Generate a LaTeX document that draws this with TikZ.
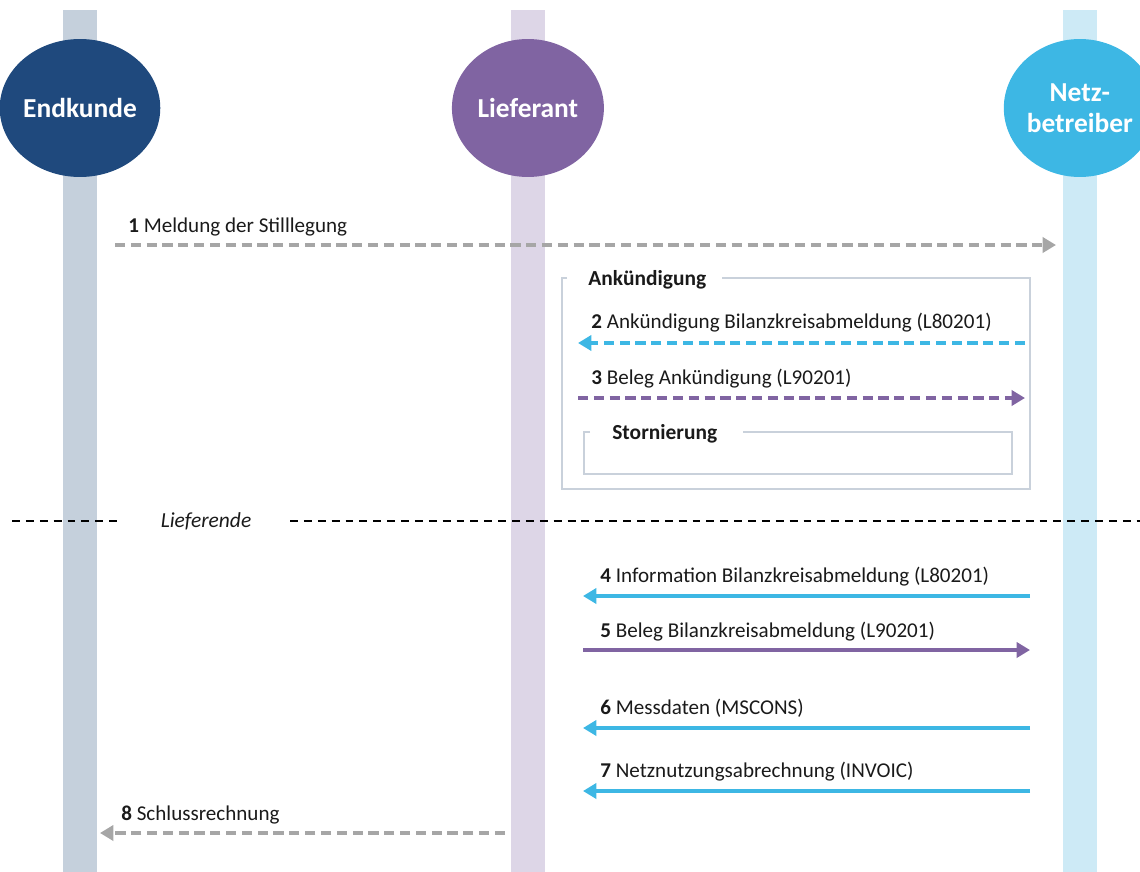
\documentclass[tikz,border=0pt]{standalone}
\usepackage{fontspec}
\setmainfont{Carlito}
\usetikzlibrary{positioning,arrows.meta,shapes.geometric}
\definecolor{ekblue}{HTML}{1F497D}
\definecolor{lfpurple}{HTML}{8064A2}
\definecolor{nbcyan}{HTML}{3DB7E4}
\definecolor{eklane}{HTML}{C5D0DC}
\definecolor{lflane}{HTML}{DDD6E7}
\definecolor{nblane}{HTML}{CDEAF6}
\definecolor{msggray}{HTML}{A6A6A6}
\definecolor{framegray}{HTML}{C9D1DB}
\definecolor{txt}{HTML}{1A1A1A}

\begin{document}
\begin{tikzpicture}[x=0.02cm, y=-0.02cm,
    actor/.style = {ellipse, minimum width = 3.04cm, minimum height = 2.76cm, inner sep = 0pt,
      text = white, font = \fontsize{15.6}{17.8}\selectfont\bfseries, align = center},
    msg/.style = {line width = 2pt, -{Triangle[length = 7.6pt, width = 8.6pt]}},
    dashmsg/.style = {msg, line width = 2.2pt, dash pattern = on 5.8pt off 3.2pt},
    lbl/.style = {anchor = west, inner sep = 0pt, text = txt, font = \fontsize{12}{14}\selectfont},
    frametitle/.style = {anchor = west, inner sep = 0pt, text = txt, font = \fontsize{12.2}{14}\selectfont\bfseries},
    frame/.style = {draw = framegray, line width = 1.2pt}]
    \useasboundingbox (0,0) rectangle (1140,872);

      \fill[eklane] (63,10) rectangle (97,872);
      \fill[lflane] (511,10) rectangle (545,872);
      \fill[nblane] (1063,10) rectangle (1097,872);

      \node[actor, fill = ekblue] (ek) at (80,108) {Endkunde};
      \node[actor, fill = lfpurple, on grid, right = 8.96cm of ek] (lf) {Lieferant};
      \node[actor, fill = nbcyan, on grid, right = 11.04cm of lf] (nb) {Netz-\\betreiber};

      \coordinate (m1a) at (115,245);
      \coordinate (m1b) at (1056,245);
      \draw[dashmsg, msggray] (m1a) -- (m1b);
      \node[lbl] (l1) at (128,227) {\textbf{1} Meldung der Stilllegung};

      \draw[frame] (567,278) -- (562,278) -- (562,489) -- (1030,489) -- (1030,278) -- (722,278);
      \node[frametitle] (fa) at (588,280) {Ankündigung};

      \coordinate (m2a) at (1025,343);
      \coordinate (m2b) at (578,343);
      \draw[dashmsg, nbcyan] (m2a) -- (m2b);
      \node[lbl] (l2) at (591,323) {\textbf{2} Ankündigung Bilanzkreisabmeldung (L80201)};

      \coordinate (m3a) at (578,398);
      \coordinate (m3b) at (1025,398);
      \draw[dashmsg, lfpurple] (m3a) -- (m3b);
      \node[lbl] (l3) at (591,379) {\textbf{3} Beleg Ankündigung (L90201)};

      \draw[frame] (590,432) -- (584,432) -- (584,474) -- (1012,474) -- (1012,432) -- (743,432);
      \node[frametitle] (fs) at (612,434) {Stornierung};

      \coordinate (le1) at (12,521);
      \coordinate (le2) at (118,521);
      \coordinate (le3) at (290,521);
      \coordinate (le4) at (1140,521);
      \draw[line width = 1.2pt, dash pattern = on 4.5pt off 3.4pt] (le1) -- (le2);
      \draw[line width = 1.2pt, dash pattern = on 4.5pt off 3.4pt] (le3) -- (le4);
      \node[lbl, anchor = center, font = \fontsize{12.2}{14}\selectfont\itshape] (le) at (206,521) {Lieferende};

      \coordinate (m4a) at (1030,596);
      \coordinate (m4b) at (583,596);
      \draw[msg, nbcyan] (m4a) -- (m4b);
      \node[lbl] (l4) at (600,577) {\textbf{4} Information Bilanzkreisabmeldung (L80201)};

      \coordinate (m5a) at (583,650);
      \coordinate (m5b) at (1030,650);
      \draw[msg, lfpurple] (m5a) -- (m5b);
      \node[lbl] (l5) at (600,632) {\textbf{5} Beleg Bilanzkreisabmeldung (L90201)};

      \coordinate (m6a) at (1030,728);
      \coordinate (m6b) at (583,728);
      \draw[msg, nbcyan] (m6a) -- (m6b);
      \node[lbl] (l6) at (600,708) {\textbf{6} Messdaten (MSCONS)};

      \coordinate (m7a) at (1030,791);
      \coordinate (m7b) at (583,791);
      \draw[msg, nbcyan] (m7a) -- (m7b);
      \node[lbl] (l7) at (600,772) {\textbf{7} Netznutzungsabrechnung (INVOIC)};

      \coordinate (m8a) at (505,833);
      \coordinate (m8b) at (100,833);
      \draw[dashmsg, msggray] (m8a) -- (m8b);
      \node[lbl] (l8) at (121,815) {\textbf{8} Schlussrechnung};

\end{tikzpicture}
\end{document}
